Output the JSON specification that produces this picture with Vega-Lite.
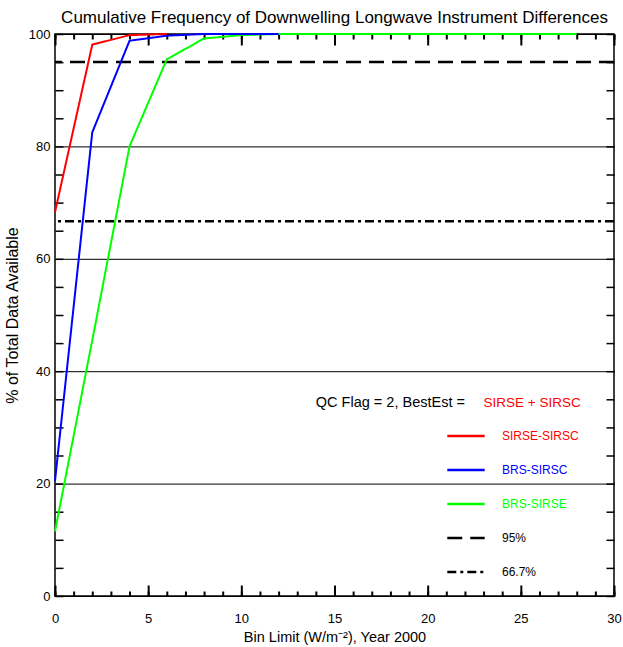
{
  "$schema": "https://vega.github.io/schema/vega-lite/v6.json",
  "width": 559,
  "height": 562,
  "autosize": "none",
  "padding": {"left": 55, "top": 34, "right": 9, "bottom": 51},
  "background": "white",
  "config": {
    "view": {"stroke": "black", "strokeWidth": 1.5},
    "font": "Liberation Sans",
    "axis": {"domain": false, "grid": false, "tickColor": "black", "tickWidth": 1.5, "tickRound": false, "labelColor": "black", "titleColor": "black", "titleFontWeight": "normal", "labelFont": "Liberation Sans", "titleFont": "Liberation Sans"},
    "axisX": {"tickWidth": 2}
  },
  "title": {"text": "Cumulative Frequency of Downwelling Longwave Instrument Differences", "fontSize": 17, "fontWeight": "normal", "font": "Liberation Sans", "color": "black", "offset": 1, "anchor": "middle"},
  "datasets": {
    "series": [
      {"Series": "BRS-SIRSE", "Bin": 0, "Percent": 11.5},
      {"Series": "BRS-SIRSE", "Bin": 2, "Percent": 45.5},
      {"Series": "BRS-SIRSE", "Bin": 4, "Percent": 80.0},
      {"Series": "BRS-SIRSE", "Bin": 6, "Percent": 95.5},
      {"Series": "BRS-SIRSE", "Bin": 8, "Percent": 99.2},
      {"Series": "BRS-SIRSE", "Bin": 10, "Percent": 99.8},
      {"Series": "BRS-SIRSE", "Bin": 12, "Percent": 100},
      {"Series": "BRS-SIRSE", "Bin": 14, "Percent": 100},
      {"Series": "BRS-SIRSE", "Bin": 16, "Percent": 100},
      {"Series": "BRS-SIRSE", "Bin": 18, "Percent": 100},
      {"Series": "BRS-SIRSE", "Bin": 20, "Percent": 100},
      {"Series": "BRS-SIRSE", "Bin": 22, "Percent": 100},
      {"Series": "BRS-SIRSE", "Bin": 24, "Percent": 100},
      {"Series": "BRS-SIRSE", "Bin": 26, "Percent": 100},
      {"Series": "BRS-SIRSE", "Bin": 28, "Percent": 100},
      {"Series": "BRS-SIRSC", "Bin": 0, "Percent": 20.5},
      {"Series": "BRS-SIRSC", "Bin": 2, "Percent": 82.5},
      {"Series": "BRS-SIRSC", "Bin": 4, "Percent": 98.8},
      {"Series": "BRS-SIRSC", "Bin": 6, "Percent": 99.7},
      {"Series": "BRS-SIRSC", "Bin": 8, "Percent": 100},
      {"Series": "BRS-SIRSC", "Bin": 10, "Percent": 100},
      {"Series": "BRS-SIRSC", "Bin": 12, "Percent": 100},
      {"Series": "SIRSE-SIRSC", "Bin": 0, "Percent": 68.3},
      {"Series": "SIRSE-SIRSC", "Bin": 2, "Percent": 98.1},
      {"Series": "SIRSE-SIRSC", "Bin": 4, "Percent": 99.8},
      {"Series": "SIRSE-SIRSC", "Bin": 6, "Percent": 100}
    ],
    "thresholds": [
      {"Series": "95%", "Level": 95},
      {"Series": "66.7%", "Level": 66.7}
    ]
  },
  "resolve": {"axis": {"x": "independent", "y": "independent"}},
  "layer": [
    {
      "data": {"name": "series"},
      "mark": {"type": "point", "opacity": 0},
      "encoding": {
        "x": {"field": "Bin", "type": "quantitative", "scale": {"domain": [0, 30], "nice": false},
          "axis": {"orient": "bottom", "values": [0,1,2,3,4,5,6,7,8,9,10,11,12,13,14,15,16,17,18,19,20,21,22,23,24,25,26,27,28,29,30], "labels": false, "tickSize": -5, "tickWidth": 2, "title": null}},
        "y": {"field": "Percent", "type": "quantitative", "scale": {"domain": [0, 100], "nice": false},
          "axis": {"orient": "right", "values": [0,5,10,15,20,25,30,35,40,45,50,55,60,65,70,75,80,85,90,95,100], "labels": false, "tickSize": -8, "title": null}}
      }
    },
    {
      "data": {"name": "series"},
      "mark": {"type": "point", "opacity": 0},
      "encoding": {
        "x": {"field": "Bin", "type": "quantitative", "scale": {"domain": [0, 30], "nice": false},
          "axis": {"orient": "bottom", "values": [0, 5, 10, 15, 20, 25, 30], "labels": false, "tickSize": -11, "tickWidth": 2, "title": null}},
        "y": {"field": "Percent", "type": "quantitative", "axis": null}
      }
    },
    {
      "data": {"name": "series"},
      "mark": {"type": "point", "opacity": 0},
      "encoding": {
        "x": {"field": "Bin", "type": "quantitative", "scale": {"domain": [0, 30], "nice": false},
          "axis": {"orient": "top", "values": [0,1,2,3,4,5,6,7,8,9,10,11,12,13,14,15,16,17,18,19,20,21,22,23,24,25,26,27,28,29,30], "labels": false, "tickSize": -5, "tickWidth": 2, "title": null}},
        "y": {"field": "Percent", "type": "quantitative", "axis": null}
      }
    },
    {
      "data": {"name": "series"},
      "mark": {"type": "point", "opacity": 0},
      "encoding": {
        "x": {"field": "Bin", "type": "quantitative", "scale": {"domain": [0, 30], "nice": false},
          "axis": {"orient": "top", "values": [0, 5, 10, 15, 20, 25, 30], "labels": false, "tickSize": -11, "tickWidth": 2, "title": null}},
        "y": {"field": "Percent", "type": "quantitative", "axis": null}
      }
    },
    {
      "data": {"name": "thresholds"},
      "mark": {"type": "rule", "strokeWidth": 2.5},
      "encoding": {
        "y": {"field": "Level", "type": "quantitative", "scale": {"domain": [0, 100], "nice": false},
          "axis": {"orient": "left", "values": [0,5,10,15,20,25,30,35,40,45,50,55,60,65,70,75,80,85,90,95,100], "labels": false, "tickSize": -8, "title": null}},
        "color": {"field": "Series", "type": "nominal",
          "scale": {"domain": ["SIRSE-SIRSC", "BRS-SIRSC", "BRS-SIRSE", "95%", "66.7%"], "range": ["#ff0000", "#0000ff", "#00ff00", "#000000", "#000000"]},
          "legend": {"orient": "none", "legendX": 391, "legendY": 382, "title": null, "symbolType": "stroke", "symbolSize": 1400, "symbolStrokeWidth": 2.5, "labelFontSize": 12, "labelOffset": 16, "rowPadding": 8, "padding": 0, "labelFont": "Liberation Sans", "encode": {"labels": {"update": {"fill": {"scale": "color", "field": "value"}}}}}},
        "strokeDash": {"field": "Series", "type": "nominal",
          "scale": {"domain": ["SIRSE-SIRSC", "BRS-SIRSC", "BRS-SIRSE", "95%", "66.7%"], "range": [[1, 0], [1, 0], [1, 0], [15, 8], [9, 4, 3, 4]]},
          "legend": {"orient": "none", "legendX": 391, "legendY": 382, "title": null, "symbolType": "stroke", "symbolSize": 1400, "symbolStrokeWidth": 2.5, "labelFontSize": 12, "labelOffset": 16, "rowPadding": 8, "padding": 0, "labelFont": "Liberation Sans", "encode": {"labels": {"update": {"fill": {"scale": "color", "field": "value"}}}}}}
      }
    },
    {
      "data": {"name": "series"},
      "mark": {"type": "line", "strokeWidth": 2},
      "encoding": {
        "x": {"field": "Bin", "type": "quantitative", "scale": {"domain": [0, 30], "nice": false},
          "axis": {"orient": "bottom", "values": [0, 5, 10, 15, 20, 25, 30], "ticks": false, "labelPadding": 16, "labelFontSize": 13, "labelFlush": false, "title": "Bin Limit (W/m⁻²), Year 2000", "titleFontSize": 14.5, "titlePadding": 5}},
        "y": {"field": "Percent", "type": "quantitative", "scale": {"domain": [0, 100], "nice": false},
          "axis": {"orient": "left", "values": [0, 20, 40, 60, 80, 100], "ticks": false, "grid": true, "gridColor": "black", "gridOpacity": 1, "gridWidth": 1, "labelPadding": 5, "labelFontSize": 13, "title": "% of Total Data Available", "titleFontSize": 16, "titlePadding": 8}},
        "color": {"field": "Series", "type": "nominal",
          "scale": {"domain": ["SIRSE-SIRSC", "BRS-SIRSC", "BRS-SIRSE", "95%", "66.7%"], "range": ["#ff0000", "#0000ff", "#00ff00", "#000000", "#000000"]},
          "legend": {"orient": "none", "legendX": 391, "legendY": 382, "title": null, "symbolType": "stroke", "symbolSize": 1400, "symbolStrokeWidth": 2.5, "labelFontSize": 12, "labelOffset": 16, "rowPadding": 8, "padding": 0, "labelFont": "Liberation Sans", "encode": {"labels": {"update": {"fill": {"scale": "color", "field": "value"}}}}}},
        "strokeDash": {"field": "Series", "type": "nominal",
          "scale": {"domain": ["SIRSE-SIRSC", "BRS-SIRSC", "BRS-SIRSE", "95%", "66.7%"], "range": [[1, 0], [1, 0], [1, 0], [15, 8], [9, 4, 3, 4]]},
          "legend": {"orient": "none", "legendX": 391, "legendY": 382, "title": null, "symbolType": "stroke", "symbolSize": 1400, "symbolStrokeWidth": 2.5, "labelFontSize": 12, "labelOffset": 16, "rowPadding": 8, "padding": 0, "labelFont": "Liberation Sans", "encode": {"labels": {"update": {"fill": {"scale": "color", "field": "value"}}}}}}
      }
    },
    {
      "data": {"values": [{"Label": "QC Flag = 2, BestEst ="}]},
      "mark": {"type": "text", "align": "right", "baseline": "middle", "fontSize": 14.5, "color": "black", "font": "Liberation Sans"},
      "encoding": {
        "x": {"datum": 22.0, "type": "quantitative", "axis": null},
        "y": {"datum": 34.3, "type": "quantitative", "axis": null},
        "text": {"field": "Label"}
      }
    },
    {
      "data": {"values": [{"Label": "SIRSE + SIRSC"}]},
      "mark": {"type": "text", "align": "left", "baseline": "middle", "fontSize": 13.5, "color": "#ff0000", "font": "Liberation Sans"},
      "encoding": {
        "x": {"datum": 23.0, "type": "quantitative", "axis": null},
        "y": {"datum": 34.3, "type": "quantitative", "axis": null},
        "text": {"field": "Label"}
      }
    }
  ]
}
